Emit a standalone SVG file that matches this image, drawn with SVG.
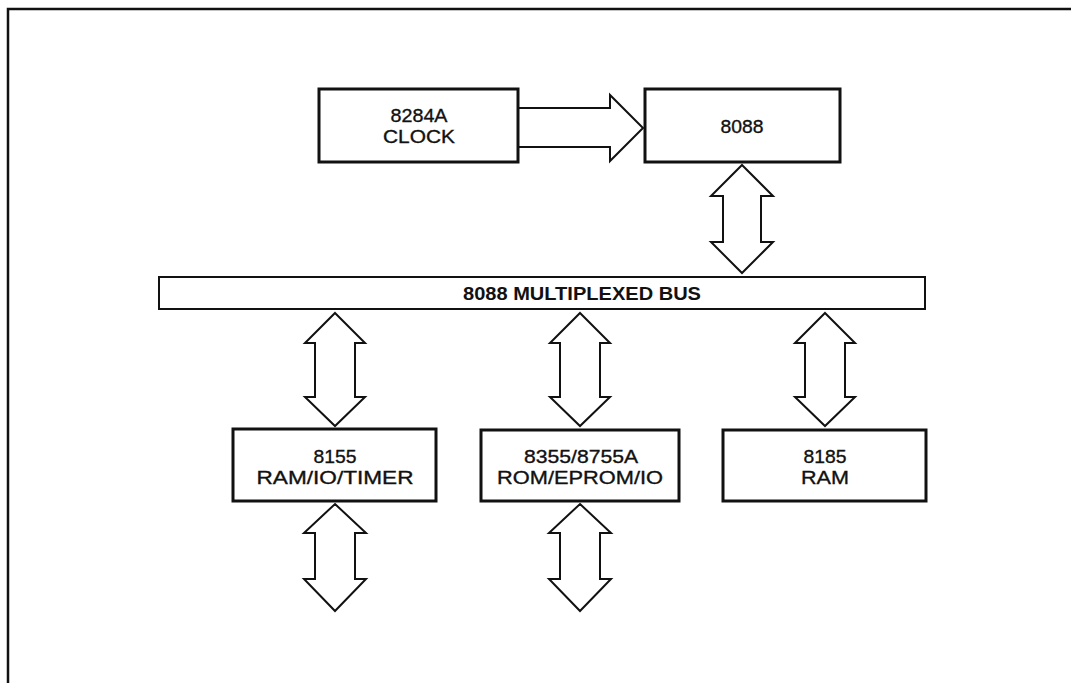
<svg xmlns="http://www.w3.org/2000/svg" width="1071" height="683" viewBox="0 0 1071 683">
<style>
.box{fill:#fff;stroke:#111;stroke-width:3}
.bus{fill:#fff;stroke:#111;stroke-width:2}
.arr{fill:#fff;stroke:#111;stroke-width:2;stroke-linejoin:miter}
.frame{fill:none;stroke:#111;stroke-width:2.5}
text{font-family:"Liberation Sans",Arial,sans-serif;font-size:19px;fill:#111;stroke:#111;stroke-width:0.35;text-anchor:middle}
.bt{font-weight:bold;font-size:19px;stroke-width:0}
</style>
<rect width="1071" height="683" fill="#fff"/>
<path class="frame" d="M8,683 V9 H1071"/>
<g id="connectors">
<polygon class="arr" points="518,108 610,108 610,95 643,128 610,161 610,147 518,147"/>
<polygon class="arr" points="742,165 773,196 761,196 761,242 773,242 742,273 711,242 723,242 723,196 711,196"/>
<polygon class="arr" points="335,313 365,343 355,343 355,397 365,397 335,426 305,397 315,397 315,343 305,343"/>
<polygon class="arr" points="580,313 610,343 600,343 600,397 610,397 580,426 550,397 560,397 560,343 550,343"/>
<polygon class="arr" points="825,313 855,343 845,343 845,397 855,397 825,426 795,397 805,397 805,343 795,343"/>
<polygon class="arr" points="335,504 366,533 355,533 355,579 366,579 335,611 304,579 315,579 315,533 304,533"/>
<polygon class="arr" points="580,504 611,533 600,533 600,579 611,579 580,611 549,579 560,579 560,533 549,533"/>
</g>
<g id="clock">
<rect class="box" x="319" y="89" width="199" height="73"/>
<text x="419" y="122" textLength="57" lengthAdjust="spacingAndGlyphs">8284A</text>
<text x="419" y="143" textLength="72" lengthAdjust="spacingAndGlyphs">CLOCK</text>
</g>
<g id="cpu8088">
<rect class="box" x="645" y="89" width="195" height="73"/>
<text x="742" y="133" textLength="43" lengthAdjust="spacingAndGlyphs">8088</text>
</g>
<g id="bus">
<rect class="bus" x="159" y="277" width="766" height="32"/>
<text class="bt" x="582" y="300" textLength="238" lengthAdjust="spacingAndGlyphs">8088 MULTIPLEXED BUS</text>
</g>
<g id="ram8155">
<rect class="box" x="233" y="429" width="203" height="72"/>
<text x="335" y="463" textLength="43" lengthAdjust="spacingAndGlyphs">8155</text>
<text x="335" y="484" textLength="157" lengthAdjust="spacingAndGlyphs">RAM/IO/TIMER</text>
</g>
<g id="rom8355">
<rect class="box" x="481" y="430" width="198" height="71"/>
<text x="581" y="463" textLength="114" lengthAdjust="spacingAndGlyphs">8355/8755A</text>
<text x="580" y="484" textLength="166" lengthAdjust="spacingAndGlyphs">ROM/EPROM/IO</text>
</g>
<g id="ram8185">
<rect class="box" x="723" y="430" width="203" height="71"/>
<text x="825" y="463" textLength="43" lengthAdjust="spacingAndGlyphs">8185</text>
<text x="825" y="484" textLength="48" lengthAdjust="spacingAndGlyphs">RAM</text>
</g>
</svg>
